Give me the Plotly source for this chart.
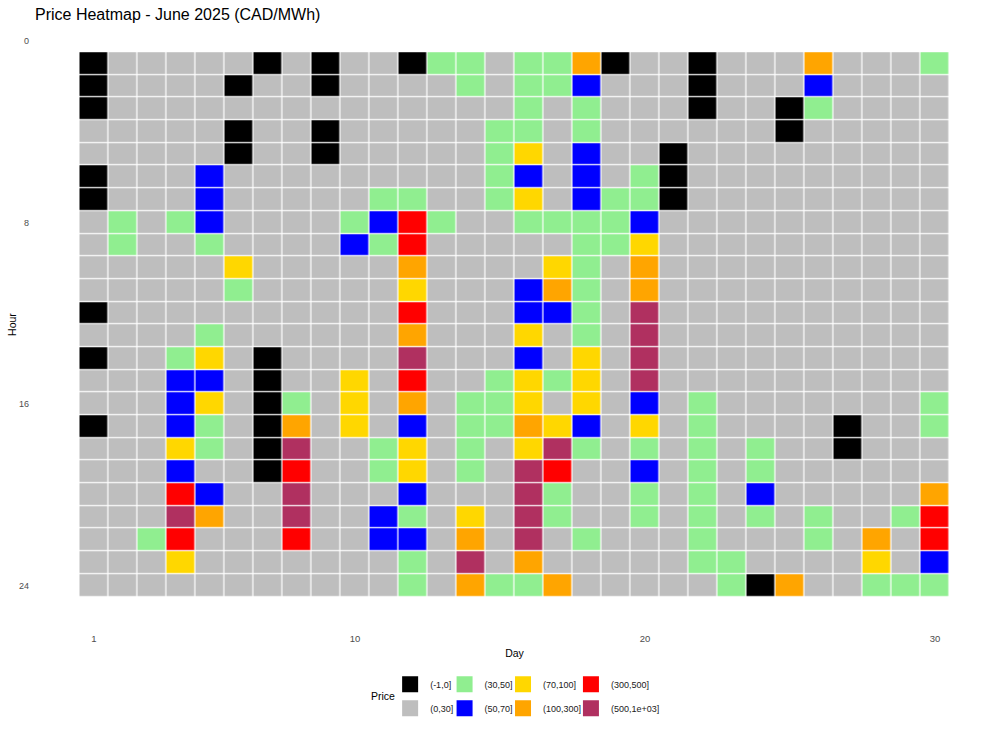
import plotly.graph_objects as go

# price bins (ggplot cut() labels) and their fill colours
bin_labels = ['(-1,0]', '(0,30]', '(30,50]', '(50,70]', '(70,100]', '(100,300]', '(300,500]', '(500,1e+03]']
bin_codes = ['K', 'G', 'L', 'B', 'Y', 'O', 'R', 'M']
bin_colors = ['#000000', '#BEBEBE', '#90EE90', '#0000FF', '#FFD700', '#FFA500', '#FF0000', '#B03060']

days = list(range(1, 31))
hours = list(range(1, 25))

# one string per hour, one code per day (day 1 .. day 30)
price_bin_by_hour = [
    'KGGGGGKGKGGKLLGLLOKGGKGGGOGGGL',  # 1
    'KGGGGKGGKGGGGLGLLBGGGKGGGBGGGG',  # 2
    'KGGGGGGGGGGGGGGLGLGGGKGGKLGGGG',  # 3
    'GGGGGKGGKGGGGGLLGLGGGGGGKGGGGG',  # 4
    'GGGGGKGGKGGGGGLYGBGGKGGGGGGGGG',  # 5
    'KGGGBGGGGGGGGGLBGBGLKGGGGGGGGG',  # 6
    'KGGGBGGGGGLLGGLYGBLLKGGGGGGGGG',  # 7
    'GLGLBGGGGLBRLGGLLLLBGGGGGGGGGG',  # 8
    'GLGGLGGGGBLRGGGGGLLYGGGGGGGGGG',  # 9
    'GGGGGYGGGGGOGGGGYLGOGGGGGGGGGG',  # 10
    'GGGGGLGGGGGYGGGBOLGOGGGGGGGGGG',  # 11
    'KGGGGGGGGGGRGGGBBLGMGGGGGGGGGG',  # 12
    'GGGGLGGGGGGOGGGYGLGMGGGGGGGGGG',  # 13
    'KGGLYGKGGGGMGGGBGYGMGGGGGGGGGG',  # 14
    'GGGBBGKGGYGRGGLYLYGMGGGGGGGGGG',  # 15
    'GGGBYGKLGYGOGLLYGYGBGLGGGGGGGL',  # 16
    'KGGBLGKOGYGBGLLOYBGYGLGGGGKGGL',  # 17
    'GGGYLGKMGGLYGLGYMLGLGLGLGGKGGG',  # 18
    'GGGBGGKRGGLYGLGMRGGBGLGLGGGGGG',  # 19
    'GGGRBGGMGGGBGGGMLGGLGLGBGGGGGO',  # 20
    'GGGMOGGMGGBLGYGMLGGLGLGLGLGGLR',  # 21
    'GGLRGGGRGGBBGOGMGLGGGLGGGLGOGR',  # 22
    'GGGYGGGGGGGLGMGOGGGGGLLGGGGYGB',  # 23
    'GGGGGGGGGGGLGOLLOGGGGGLKOGGLLL',  # 24
]
assert all(len(r) == len(days) for r in price_bin_by_hour)

z = [[bin_codes.index(c) for c in row] for row in price_bin_by_hour]
hover = [[bin_labels[v] for v in row] for row in z]

n = len(bin_colors)
colorscale = []
for i, c in enumerate(bin_colors):
    colorscale.append([i / n, c])
    colorscale.append([(i + 1) / n, c])

fig = go.Figure()
fig.add_trace(go.Heatmap(
    x=days, y=hours, z=z,
    zmin=-0.5, zmax=n - 0.5,
    colorscale=colorscale, showscale=False,
    xgap=1.2, ygap=1.2,
    text=hover,
    hovertemplate='Day %{x}<br>Hour %{y}<br>Price %{text}<extra></extra>',
))

W, H = 1000, 729
ml, mr, mt, mb = 35.5, 6.5, 24.75, 104.75
pw, ph = W - ml - mr, H - mt - mb


def px_x(v):
    return (v - ml) / pw


def px_y(v):
    return (H - mb - v) / ph


# legend: ggplot style 2 rows x 4 columns, one plotly legend per column
legend_left = [390, 444.5, 503, 571]
legend_names = ['legend', 'legend2', 'legend3', 'legend4']
for i, lab in enumerate(bin_labels):
    col = i // 2
    fig.add_trace(go.Scatter(
        x=[None], y=[None], mode='markers', name=lab,
        marker=dict(symbol='square', size=16, color=bin_colors[i]),
        legend=legend_names[col], legendgroup=lab, hoverinfo='skip',
    ))

legend_style = dict(
    orientation='v', xanchor='left', yanchor='top', y=px_y(670),
    font=dict(size=9, color='#1A1A1A'), tracegroupgap=5,
    bgcolor='rgba(0,0,0,0)', borderwidth=0, itemclick=False,
)
lay = {}
for col, name in enumerate(legend_names):
    lay[name] = dict(legend_style, x=px_x(legend_left[col]))

fig.update_layout(
    width=W, height=H,
    margin=dict(l=ml, r=mr, t=mt, b=mb),
    plot_bgcolor='white', paper_bgcolor='white',
    font=dict(family='Liberation Sans, Arial, sans-serif', color='#000000'),
    title=dict(text='Price Heatmap - June 2025 (CAD/MWh)', x=35 / W, xref='container', xanchor='left',
               y=1 - 14 / H, yref='container', yanchor='middle',
               font=dict(size=16, color='#000000')),
    xaxis=dict(range=[-1.0, 32.0], tickvals=[1, 10, 20, 30], showgrid=False, zeroline=False,
               showline=False, ticks='', tickfont=dict(size=9.5, color='#4D4D4D'), ticklabelstandoff=7,
               title=dict(text='Day', font=dict(size=10.5), standoff=7)),
    yaxis=dict(range=[25.7, -0.7], tickvals=[0, 8, 16, 24], showgrid=False, zeroline=False,
               showline=False, ticks='', tickfont=dict(size=9, color='#4D4D4D'), ticklabelstandoff=6,
               title=dict(text='Hour', font=dict(size=10.5), standoff=0)),
    showlegend=True,
    annotations=[dict(text='Price', x=px_x(383), y=px_y(696), xref='paper', yref='paper',
                      xanchor='center', yanchor='middle',
                      showarrow=False, font=dict(size=10.5, color='#000000'))],
    **lay,
)

# drop the browser's default body margin so the figure sits at the page corner
fig.write_html('out.html', config={'displayModeBar': False},
               post_script="document.body.style.margin='0';")
